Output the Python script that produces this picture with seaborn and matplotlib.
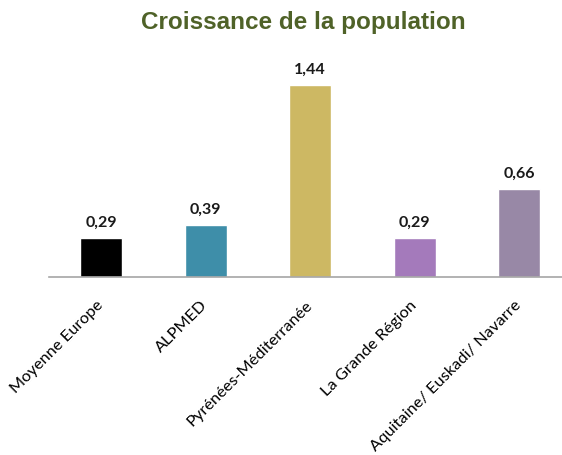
import matplotlib
matplotlib.use("Agg")
import matplotlib.pyplot as plt
import seaborn as sns
import pandas as pd

# data
regions = ["Moyenne Europe", "ALPMED", "Pyrénées-Méditerranée",
           "La Grande Région", "Aquitaine/ Euskadi/ Navarre"]
growth = [0.29, 0.39, 1.44, 0.29, 0.66]
labels = ["0,29", "0,39", "1,44", "0,29", "0,66"]
colors = ["#000000", "#3E8EA9", "#CDB863", "#A47ABB", "#9888A6"]

df = pd.DataFrame({"region": regions, "growth": growth})

sns.set_style("white")
plt.rcParams["font.family"] = ["Lato", "DejaVu Sans"]

fig = plt.figure(figsize=(5.62, 4.56), dpi=100)
ax = fig.add_axes([0.087, 0.3904, 0.913, 0.478])

sns.barplot(data=df, x="region", y="growth", hue="region", palette=colors,
            width=0.4, legend=False, ax=ax, saturation=1)

ax.set_xlim(-0.5, 4.41)
ax.set_ylim(0, 1.635)

for i, (v, lab) in enumerate(zip(growth, labels)):
    ax.annotate(lab, (i, v), xytext=(0, 9), textcoords="offset points",
                ha="center", va="baseline", fontsize=11.5,
                fontweight="bold", color="#1a1a1a")

for s in ["top", "left", "right"]:
    ax.spines[s].set_visible(False)
ax.spines["bottom"].set_color("#A6A6A6")
ax.spines["bottom"].set_linewidth(1.2)
ax.set_yticks([])
ax.set_xlabel("")
ax.set_ylabel("")
ax.tick_params(axis="x", length=0, pad=18)
plt.setp(ax.get_xticklabels(), rotation=45, ha="right",
         rotation_mode="anchor", va="center", fontsize=11.8, color="#000000")

fig.text(0.539, 0.936, "Croissance de la population", ha="center",
         va="baseline", fontsize=17.5, fontweight="bold", color="#4F6228",
         family=["Liberation Sans", "DejaVu Sans"])

fig.savefig("out.png", dpi=100)
